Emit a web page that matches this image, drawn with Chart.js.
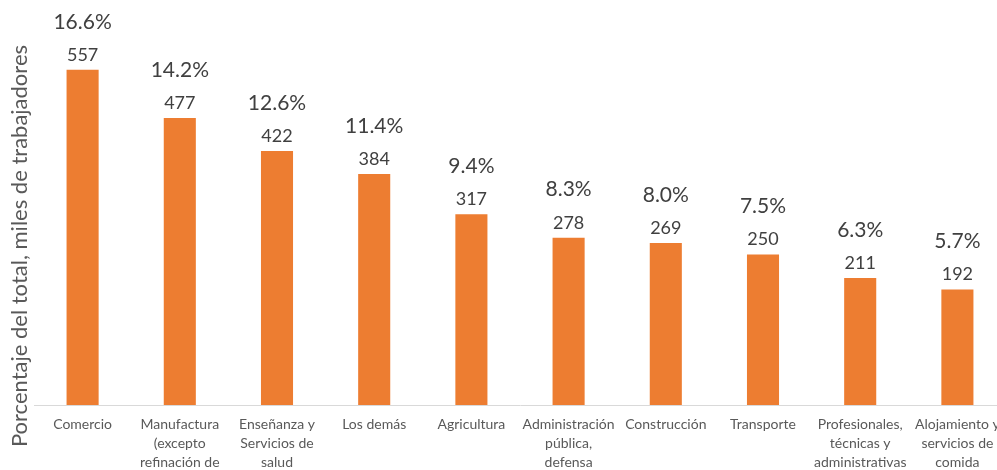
<!DOCTYPE html>
<html>
<head>
<meta charset="utf-8">
<script src="https://cdn.jsdelivr.net/npm/chart.js@4/dist/chart.umd.min.js"></script>
<style>
  html, body { margin: 0; padding: 0; background: #fff; overflow: hidden; }
  #marco { width: 997px; height: 470px; overflow: hidden; }
  #wrap { width: 1006px; height: 470px; position: relative; }
</style>
</head>
<body>
<div id="marco"><div id="wrap"><canvas id="chart"></canvas></div></div>
<script>
// Trabajadores por sector (miles) y porcentaje del total
const sectores = [
  ['Comercio'],
  ['Manufactura', '(excepto', 'refinación de'],
  ['Enseñanza y', 'Servicios de', 'salud'],
  ['Los demás'],
  ['Agricultura'],
  ['Administración', 'pública,', 'defensa'],
  ['Construcción'],
  ['Transporte'],
  ['Profesionales,', 'técnicas y', 'administrativas'],
  ['Alojamiento y', 'servicios de', 'comida']
];
const trabajadores = [557, 477, 422, 384, 317, 278, 269, 250, 211, 192];
const porcentajes = ['16.6%', '14.2%', '12.6%', '11.4%', '9.4%', '8.3%', '8.0%', '7.5%', '6.3%', '5.7%'];
const tituloEje = 'Porcentaje del total, miles de trabajadores';

const FONT = 'Lato, "Open Sans", sans-serif';

// Etiquetas encima de cada barra: porcentaje y valor
const etiquetasBarras = {
  id: 'etiquetasBarras',
  afterDatasetsDraw(chart) {
    const ctx = chart.ctx;
    const meta = chart.getDatasetMeta(0);
    ctx.save();
    ctx.textAlign = 'center';
    ctx.textBaseline = 'middle';
    ctx.fillStyle = '#404040';
    meta.data.forEach((bar, i) => {
      ctx.font = '18px ' + FONT;
      ctx.fillText(String(trabajadores[i]), bar.x, bar.y - 15);
      ctx.font = '21px ' + FONT;
      ctx.fillText(porcentajes[i], bar.x, bar.y - 48);
    });
    ctx.restore();
  }
};

// Título del eje vertical (se sale por debajo del área del gráfico)
const tituloVertical = {
  id: 'tituloVertical',
  afterDraw(chart) {
    const ctx = chart.ctx;
    ctx.save();
    ctx.translate(20, 246);
    ctx.rotate(-Math.PI / 2);
    ctx.textAlign = 'center';
    ctx.textBaseline = 'middle';
    ctx.fillStyle = '#595959';
    ctx.font = '22px ' + FONT;
    ctx.fillText(tituloEje, 0, 0);
    ctx.restore();
  }
};

new Chart(document.getElementById('chart'), {
  type: 'bar',
  data: {
    labels: sectores,
    datasets: [{
      data: trabajadores,
      backgroundColor: '#ED7D31',
      borderWidth: 0,
      categoryPercentage: 1,
      barPercentage: 0.33
    }]
  },
  options: {
    responsive: true,
    maintainAspectRatio: false,
    animation: false,
    layout: { padding: { left: 34, right: 0, top: 0, bottom: 0 } },
    plugins: {
      legend: { display: false },
      tooltip: { enabled: false }
    },
    scales: {
      x: {
        grid: { display: false, drawTicks: false },
        border: { display: true, color: '#D9D9D9', width: 1 },
        ticks: {
          color: '#595959',
          font: { family: FONT, size: 14, lineHeight: 1.35 },
          padding: 10,
          maxRotation: 0,
          autoSkip: false
        },
        afterFit(scale) {
          scale.height = 65;
          scale.paddingLeft = 0;
          scale.paddingRight = 0;
        }
      },
      y: {
        display: false,
        min: 0,
        max: 673
      }
    }
  },
  plugins: [etiquetasBarras, tituloVertical]
});
</script>
</body>
</html>
